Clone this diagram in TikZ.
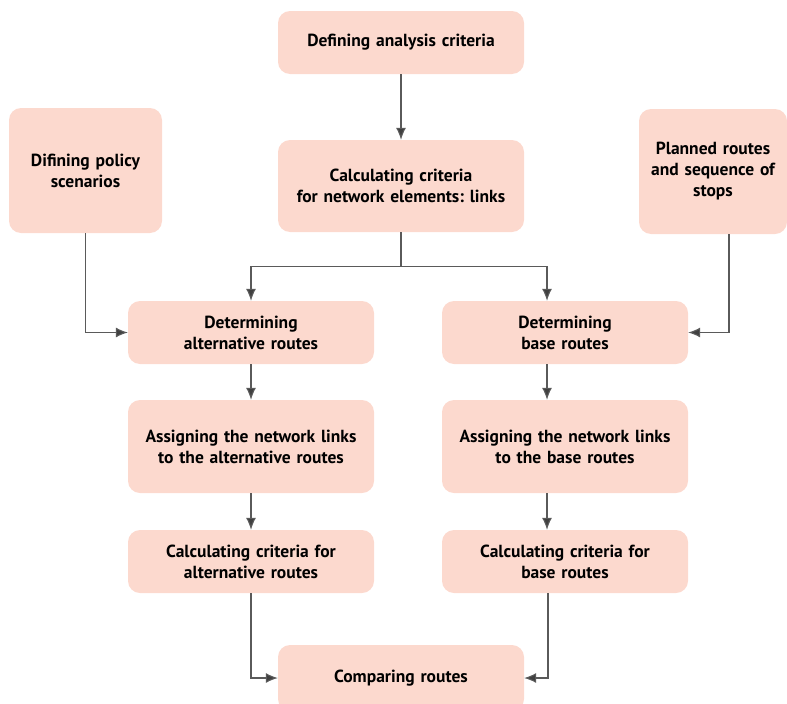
\documentclass[tikz,border=0pt]{standalone}
\usepackage{fontspec}
\setmainfont{PT Sans}
\frenchspacing
\usetikzlibrary{arrows.meta, positioning}
\definecolor{boxfill}{HTML}{FCD9CE}
\definecolor{linegray}{HTML}{5A5A5A}
\definecolor{tipgray}{HTML}{404040}
\tikzset{>={Latex[width=10pt,length=12pt]}}
\tikzset{
  box/.style = {rectangle, rounded corners=12pt, fill=boxfill, text width=236pt,
    minimum width=246pt, align=center, inner sep=0pt,
    font=\fontsize{17.5}{21}\selectfont\bfseries},
  flow/.style = {->, draw=linegray, line width=1.1pt, >={Latex[width=10pt,length=12pt,fill=tipgray]}}
}
\begin{document}
\begin{tikzpicture}[x=1pt, y=-1pt, on grid]
	\useasboundingbox (0,0) rectangle (787,704);
	\node (def) [box, minimum height=63pt] at (401,42.5) {Defining analysis criteria};
	\node (calc) [box, minimum height=92pt, below = 143.5pt of def]
		{Calculating criteria\\for network elements: links};
	\node (policy) [box, text width=148pt, minimum width=153pt, minimum height=125pt]
		at (85.5,170.5) {Difining policy\\scenarios};
	\node (planned) [box, text width=146pt, minimum width=148pt, minimum height=125pt]
		at (713,171.5) {Planned routes\\and sequence of\\stops};
	\node (alt) [box, minimum height=63pt, below left = 146.5pt and 150pt of calc]
		{Determining\\alternative routes};
	\node (base) [box, minimum height=63pt, right = 314pt of alt]
		{Determining\\base routes};
	\node (assalt) [box, minimum height=93pt, below = 114pt of alt]
		{Assigning the network links\\to the alternative routes};
	\node (assbase) [box, minimum height=93pt, right = 314pt of assalt]
		{Assigning the network links\\to the base routes};
	\node (calcalt) [box, minimum height=63pt, below = 115pt of assalt]
		{Calculating criteria for\\alternative routes};
	\node (calcbase) [box, minimum height=63pt, right = 314pt of calcalt]
		{Calculating criteria for\\base routes};
	\node (comp) [box, minimum height=66pt, below right = 116.5pt and 150pt of calcalt]
		{Comparing routes};
	% connectors
	\draw[flow] (def) -- (calc);
	\coordinate (split) at ([yshift=-34pt]calc.south);
	\draw[flow] (calc.south) -- (split) -| (alt.north);
	\draw[flow] (split) -| ([xshift=-18pt]base.north);
	\draw[flow] (policy.south) |- (alt.west);
	\draw[flow] (planned.south) ++(16pt,0) |- (base.east);
	\draw[flow] (alt) -- (assalt);
	\draw[flow] ([xshift=-18pt]base.south) -- ([xshift=-18pt]assbase.north);
	\draw[flow] (assalt) -- (calcalt);
	\draw[flow] ([xshift=-18pt]assbase.south) -- ([xshift=-18pt]calcbase.north);
	\draw[flow] (calcalt.south) |- (comp.west);
	\draw[flow] ([xshift=-17pt]calcbase.south) |- (comp.east);
\end{tikzpicture}
\end{document}
